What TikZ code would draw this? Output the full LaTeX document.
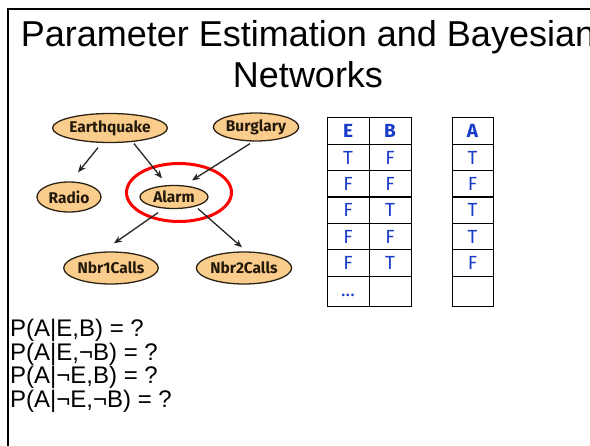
\documentclass[tikz,border=0pt]{standalone}
\usepackage{fontspec}
\setmainfont{Liberation Sans}
\newfontfamily\nodefont{Fira Sans}
\usetikzlibrary{shapes.geometric,arrows.meta}
\definecolor{nodefill}{RGB}{251,205,140}
\definecolor{nodeedge}{RGB}{45,35,20}
\definecolor{nodetext}{RGB}{35,25,10}
\definecolor{cellblue}{RGB}{25,60,200}
\tikzset{
  bnode/.style={ellipse, draw=nodeedge, line width=1.3pt, fill=nodefill, inner sep=0pt,
    text=nodetext, font=\nodefont\bfseries\fontsize{15.5}{15.5}\selectfont},
  arr/.style={-{Stealth[length=8pt,width=6.5pt]}, line width=1.3pt, draw=black!85},
  cell/.style={rectangle, draw=black, line width=0.9pt, inner sep=0pt,
    minimum width=42pt, minimum height=26.3pt, text=cellblue,
    font=\nodefont\fontsize{19}{19}\selectfont},
  hcell/.style={cell, font=\nodefont\bfseries\fontsize{19}{19}\selectfont},
  query/.style={anchor=base west, inner sep=0pt, font=\fontsize{24}{24}\selectfont},
}
\begin{document}
\begin{tikzpicture}[x=1pt, y=-1pt]
\useasboundingbox (0,0) rectangle (590,446);
% slide frame
\draw[line width=2pt] (591,9) -- (8,9) -- (8,447);
% title (runs past the right edge of the page)
\node[anchor=base, inner sep=0pt, font=\fontsize{36}{36}\selectfont] (title1) at (308,47) {Parameter Estimation and Bayesian};
\node[anchor=base, inner sep=0pt, font=\fontsize{36}{36}\selectfont] (title2) at (308,88) {Networks};

% Bayesian network
\node[bnode, minimum width=96pt, minimum height=29pt] (eq) at (110,128) {Earthquake};
\node[bnode, minimum width=77pt, minimum height=28pt] (burg) at (256,127) {Burglary};
\node[bnode, minimum width=64pt, minimum height=30pt] (radio) at (69,197) {Radio};
\node[bnode, minimum width=68pt, minimum height=23pt] (alarm) at (174,197) {Alarm};
\node[bnode, minimum width=80pt, minimum height=32pt] (nbr1) at (111,268) {Nbr1Calls};
\node[bnode, minimum width=76pt, minimum height=32pt] (nbr2) at (244,268) {Nbr2Calls};
\node[ellipse, draw=red, line width=3pt, minimum width=105pt, minimum height=58pt] (ring) at (179,192.5) {};

\draw[arr] ([shift={(-12,4.5)}]eq.south) -- ([shift={(9,-9)}]radio.north);
\draw[arr] ([shift={(24,0.5)}]eq.south) -- ([shift={(-12,-6.5)}]alarm.north);
\draw[arr] ([shift={(-6,2)}]burg.south) -- ([shift={(18,-4.5)}]alarm.north);
\draw[arr] ([shift={(-16,3.5)}]alarm.south) -- ([shift={(3,-8)}]nbr1.north);
\draw[arr] ([shift={(24,-0.5)}]alarm.south) -- ([shift={(-2,-4)}]nbr2.north);

% data table: E, B columns
\node[hcell] (e0) at (348,131) {E};
\node[hcell] (b0) at (390,131) {B};
\node[cell] (e1) at (348,157.5) {T};
\node[cell] (b1) at (390,157.5) {F};
\node[cell] (e2) at (348,184) {F};
\node[cell] (b2) at (390,184) {F};
\node[cell] (e3) at (348,210) {F};
\node[cell] (b3) at (390,210) {T};
\node[cell] (e4) at (348,236.5) {F};
\node[cell] (b4) at (390,236.5) {F};
\node[cell] (e5) at (348,263) {F};
\node[cell] (b5) at (390,263) {T};
\node[cell, minimum height=30pt, text depth=0pt] (e6) at (348,291) {\raisebox{-6pt}{...}};
\node[cell, minimum height=30pt] (b6) at (390,291) {};

% data table: A column
\node[hcell, minimum width=41pt] (a0) at (472.5,131) {A};
\node[cell, minimum width=41pt] (a1) at (472.5,157.5) {T};
\node[cell, minimum width=41pt] (a2) at (472.5,184) {F};
\node[cell, minimum width=41pt] (a3) at (472.5,210) {T};
\node[cell, minimum width=41pt] (a4) at (472.5,236.5) {T};
\node[cell, minimum width=41pt] (a5) at (472.5,263) {F};
\node[cell, minimum width=41pt, minimum height=30pt] (a6) at (472.5,291) {};

% queries
\node[query] (q1) at (10,337) {P(A|E,B) = ?};
\node[query] (q2) at (10,360.5) {P(A|E,¬B) = ?};
\node[query] (q3) at (10,384) {P(A|¬E,B) = ?};
\node[query] (q4) at (10,407.5) {P(A|¬E,¬B) = ?};
\end{tikzpicture}
\end{document}
